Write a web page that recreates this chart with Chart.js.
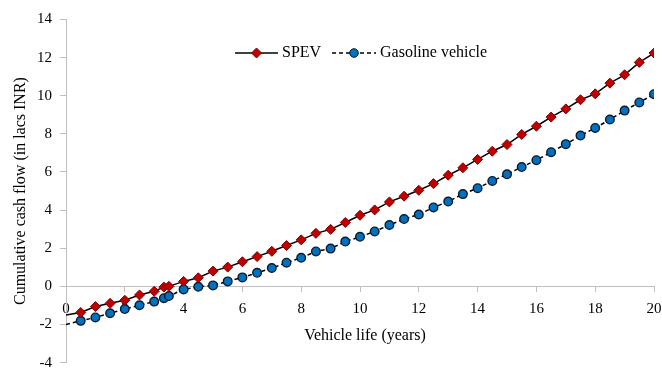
<!DOCTYPE html>
<html>
<head>
<meta charset="utf-8">
<title>Cumulative cash flow</title>
<script src="https://cdn.jsdelivr.net/npm/chart.js@4/dist/chart.umd.min.js"></script>
<style>
  html, body { margin: 0; padding: 0; background: #fff; }
  #wrap { width: 662px; height: 369px; position: relative; }
</style>
</head>
<body>
<div id="wrap"><canvas id="chart"></canvas></div>
<script>
// Vehicle life (years) at which the cash flow is sampled
const years = [0, 0.5, 1, 1.5, 2, 2.5, 3, 3.33, 3.5, 4, 4.5, 5, 5.5, 6, 6.5, 7, 7.5, 8, 8.5, 9, 9.5,
  10, 10.5, 11, 11.5, 12, 12.5, 13, 13.5, 14, 14.5, 15, 15.5, 16, 16.5, 17, 17.5, 18, 18.5, 19, 19.5, 20];

// Cumulative cash flow (lacs INR)
const spev = [-1.5, -1.37, -1.06, -0.89, -0.73, -0.45, -0.26, -0.04, 0.0, 0.26, 0.45, 0.80, 1.01, 1.29, 1.56,
  1.84, 2.14, 2.44, 2.78, 2.99, 3.35, 3.73, 4.01, 4.43, 4.73, 5.04, 5.39, 5.83, 6.22, 6.66, 7.09,
  7.44, 7.97, 8.40, 8.88, 9.31, 9.79, 10.10, 10.66, 11.10, 11.75, 12.24];
const gasoline = [-2.0, -1.81, -1.63, -1.41, -1.19, -0.99, -0.80, -0.62, -0.51, -0.16, -0.02, 0.05, 0.26, 0.47, 0.71,
  0.96, 1.24, 1.50, 1.83, 1.98, 2.35, 2.60, 2.88, 3.22, 3.53, 3.77, 4.14, 4.45, 4.84, 5.15, 5.53,
  5.88, 6.26, 6.62, 7.04, 7.46, 7.91, 8.31, 8.75, 9.22, 9.65, 10.08];

const seriesNames = ['SPEV', 'Gasoline vehicle'];
const xTitle = 'Vehicle life (years)';
const yTitle = 'Cumulative cash flow (in lacs INR)';

const FONT = '"Liberation Serif", "Times New Roman", serif';
const AXIS_GREY = '#bfbfbf';

const toPoints = (vals) => years.map((x, i) => ({ x: x, y: vals[i] }));
const hideFirst = (ctx, r) => (ctx.dataIndex === 0 ? 0 : r);

// X axis title and a line+marker legend drawn over the plot
const overlay = {
  id: 'overlay',
  afterDraw(chart) {
    const { ctx, chartArea } = chart;
    ctx.save();
    ctx.fillStyle = '#000';
    ctx.font = '16px ' + FONT;
    ctx.textAlign = 'center';
    ctx.textBaseline = 'middle';
    ctx.fillText(xTitle, (chartArea.left + chartArea.right) / 2 + 5, 336);

    // legend
    const ly = 53;
    const items = [
      { x0: 235, x1: 278, text: 282, dash: [], marker: 'diamond', fill: '#c00000', stroke: '#7f0000' },
      { x0: 332, x1: 376, text: 380, dash: [4, 3], marker: 'circle', fill: '#0070c0', stroke: '#0a1a2a' }
    ];
    items.forEach((it, i) => {
      ctx.strokeStyle = '#000';
      ctx.lineWidth = 1.5;
      ctx.setLineDash(it.dash);
      ctx.beginPath();
      ctx.moveTo(it.x0, ly);
      ctx.lineTo(it.x1, ly);
      ctx.stroke();
      ctx.setLineDash([]);
      const cx = (it.x0 + it.x1) / 2;
      ctx.fillStyle = it.fill;
      ctx.strokeStyle = it.stroke;
      ctx.lineWidth = 1;
      ctx.beginPath();
      if (it.marker === 'diamond') {
        const r = 5;
        ctx.moveTo(cx, ly - r); ctx.lineTo(cx + r, ly); ctx.lineTo(cx, ly + r); ctx.lineTo(cx - r, ly);
        ctx.closePath();
      } else {
        ctx.arc(cx, ly, 4.3, 0, Math.PI * 2);
      }
      ctx.fill();
      ctx.stroke();
      ctx.fillStyle = '#000';
      ctx.textAlign = 'left';
      ctx.fillText(seriesNames[i], it.text, ly);
    });
    ctx.restore();
  }
};

new Chart(document.getElementById('chart'), {
  type: 'line',
  data: {
    datasets: [
      {
        label: seriesNames[0],
        data: toPoints(spev),
        borderColor: '#000',
        borderWidth: 1.5,
        backgroundColor: '#c00000',
        pointStyle: 'rectRot',
        pointRadius: (ctx) => hideFirst(ctx, 5),
        pointBackgroundColor: '#c00000',
        pointBorderColor: '#7f0000',
        pointBorderWidth: 1,
        tension: 0
      },
      {
        label: seriesNames[1],
        data: toPoints(gasoline),
        borderColor: '#000',
        borderWidth: 1.5,
        borderDash: [4, 3],
        backgroundColor: '#0070c0',
        pointStyle: 'circle',
        pointRadius: (ctx) => hideFirst(ctx, 4.3),
        pointBackgroundColor: '#0070c0',
        pointBorderColor: '#0a1a2a',
        pointBorderWidth: 1.4,
        tension: 0
      }
    ]
  },
  options: {
    responsive: true,
    maintainAspectRatio: false,
    animation: false,
    layout: { padding: { left: 0, right: 8, top: 19.5, bottom: 6.4 } },
    plugins: {
      legend: { display: false },
      tooltip: { enabled: false }
    },
    scales: {
      x: {
        type: 'linear',
        position: { y: 0 },
        min: 0,
        max: 20,
        afterFit: (scale) => { scale.paddingLeft = 0; scale.paddingRight = 0; },
        ticks: { stepSize: 2, color: '#000', font: { family: FONT, size: 15 }, padding: 9, maxRotation: 0 },
        grid: { display: true, drawOnChartArea: false, drawTicks: true, tickLength: 5, color: AXIS_GREY },
        border: { display: true, color: AXIS_GREY, width: 1 },
        title: { display: false }
      },
      y: {
        type: 'linear',
        min: -4,
        max: 14,
        afterFit: (scale) => { scale.width = 66; scale.paddingTop = 0; scale.paddingBottom = 0; },
        ticks: { stepSize: 2, color: '#000', font: { family: FONT, size: 15 }, padding: 8 },
        grid: { display: true, drawOnChartArea: false, drawTicks: true, tickLength: 6, color: AXIS_GREY },
        border: { display: true, color: AXIS_GREY, width: 1 },
        title: { display: true, text: yTitle, color: '#000', font: { family: FONT, size: 16 }, padding: { top: 11, bottom: 0 } }
      }
    }
  },
  plugins: [overlay]
});
</script>
</body>
</html>
